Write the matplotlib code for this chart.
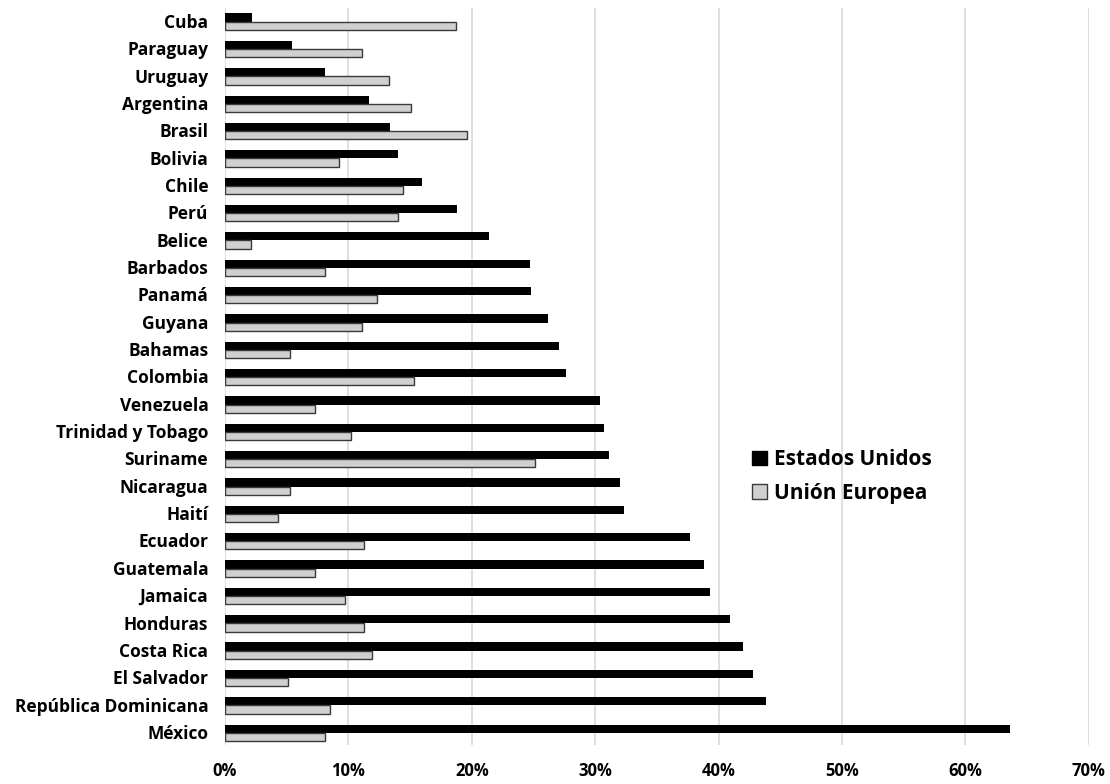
import numpy as np
import matplotlib
matplotlib.use("Agg")
import matplotlib.pyplot as plt
from matplotlib.patches import Patch

plt.rcParams['font.family'] = ['Open Sans', 'DejaVu Sans']
plt.rcParams['font.weight'] = 'bold'

# países de arriba hacia abajo
paises = ["Cuba", "Paraguay", "Uruguay", "Argentina", "Brasil", "Bolivia",
          "Chile", "Perú", "Belice", "Barbados", "Panamá", "Guyana",
          "Bahamas", "Colombia", "Venezuela", "Trinidad y Tobago", "Suriname",
          "Nicaragua", "Haití", "Ecuador", "Guatemala", "Jamaica", "Honduras",
          "Costa Rica", "El Salvador", "República Dominicana", "México"]

# participación de cada destino en las exportaciones (%)
estados_unidos = [2.2, 5.4, 8.1, 11.7, 13.4, 14.0, 16.0, 18.8, 21.4, 24.7,
                  24.8, 26.2, 27.1, 27.6, 30.4, 30.7, 31.1, 32.0, 32.3, 37.7,
                  38.8, 39.3, 40.9, 42.0, 42.8, 43.8, 63.6]
union_europea = [18.7, 11.1, 13.3, 15.1, 19.6, 9.2, 14.4, 14.0, 2.1, 8.1,
                 12.3, 11.1, 5.3, 15.3, 7.3, 10.2, 25.1, 5.3, 4.3, 11.3,
                 7.3, 9.7, 11.3, 11.9, 5.1, 8.5, 8.1]

xticks = [0, 10, 20, 30, 40, 50, 60, 70]

n = len(paises)
y = np.arange(n)[::-1]
h = 0.3

fig = plt.figure(figsize=(11.1, 7.84), dpi=100)
ax = fig.add_axes([0.2027, 0.0497, 0.7783, 0.9401])

ax.barh(y + h / 2, estados_unidos, height=h, color="black", label="Estados Unidos", zorder=3)
ax.barh(y - h / 2, union_europea, height=h, color="#d0d0d0",
        edgecolor="#3a3a3a", linewidth=1.0, label="Unión Europea", zorder=3)

ax.set_xlim(0, 70)
ax.set_ylim(-0.45, n - 0.5)
ax.set_xticks(xticks)
ax.set_xticklabels([f"{t}%" for t in xticks], fontsize=12, fontweight="bold")
ax.set_yticks(y + 0.03)
ax.set_yticklabels(paises, fontsize=12.5, fontweight="bold")
ax.tick_params(axis="both", length=0)
ax.tick_params(axis="x", pad=12)
ax.tick_params(axis="y", pad=12)

ax.grid(axis="x", color="#d9d9d9", linewidth=1.2, zorder=0)
for s in ax.spines.values():
    s.set_visible(False)

handles = [Patch(facecolor="black", edgecolor="black"),
           Patch(facecolor="#d0d0d0", edgecolor="#3a3a3a")]
leg = fig.legend(handles, ["Estados Unidos", "Unión Europea"],
                 loc="upper left", bbox_to_anchor=(0.661, 0.451),
                 frameon=False, prop={"size": 15, "weight": "bold"},
                 handlelength=0.7, handleheight=0.7, handletextpad=0.35,
                 labelspacing=0.6)

fig.savefig("out.png", dpi=100)
